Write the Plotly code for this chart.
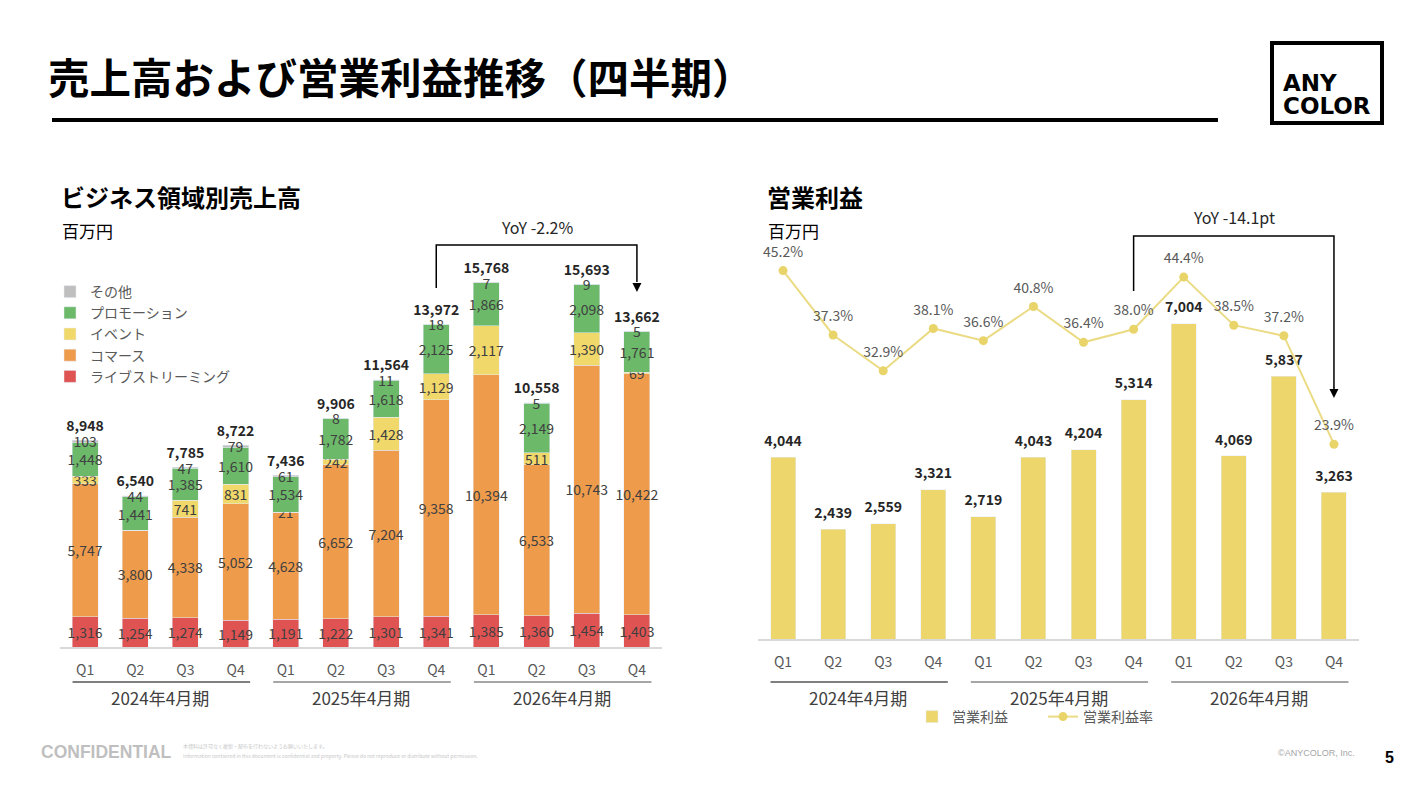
import plotly.graph_objects as go

# data (百万円)
quarters = ["Q1", "Q2", "Q3", "Q4"] * 3
fiscal_years = ["2024年4月期", "2025年4月期", "2026年4月期"]

live_streaming = [1316, 1254, 1274, 1149, 1191, 1222, 1301, 1341, 1385, 1360, 1454, 1403]
commerce = [5747, 3800, 4338, 5052, 4628, 6652, 7204, 9358, 10394, 6533, 10743, 10422]
event = [333, 0, 741, 831, 21, 242, 1428, 1129, 2117, 511, 1390, 69]
promotion = [1448, 1441, 1385, 1610, 1534, 1782, 1618, 2125, 1866, 2149, 2098, 1761]
other = [103, 44, 47, 79, 61, 8, 11, 18, 7, 5, 9, 5]
sales_total = [8948, 6540, 7785, 8722, 7436, 9906, 11564, 13972, 15768, 10558, 15693, 13662]

op_profit = [4044, 2439, 2559, 3321, 2719, 4043, 4204, 5314, 7004, 4069, 5837, 3263]
op_margin = [45.2, 37.3, 32.9, 38.1, 36.6, 40.8, 36.4, 38.0, 44.4, 38.5, 37.2, 23.9]

# page has an 8px body margin, so the figure is a bit smaller than the window
OFF = 8
W, H = 1423 - 2 * OFF, 795 - 2 * OFF
FONT = "Noto Sans CJK JP, Noto Sans, sans-serif"
LATIN = "Liberation Sans, Arial, sans-serif"
DARK = "#404040"

def px(x):
    return (x - OFF) / W

def py(y):
    return 1 - (y - OFF) / H

xs = list(range(12))

segments = [
    ("ライブストリーミング", live_streaming, "#E05353"),
    ("コマース", commerce, "#EE9B4C"),
    ("イベント", event, "#F1D86B"),
    ("プロモーション", promotion, "#6CB96A"),
    ("その他", other, "#BFBFBF"),
]

fig = go.Figure()

for name, vals, color in segments:
    fig.add_trace(go.Bar(
        x=xs, y=vals, name=name, marker_color=color, width=0.52,
        text=[f"{v:,}" if v else "" for v in vals],
        textposition="inside", insidetextanchor="middle", textangle=0,
        constraintext="none",
        textfont=dict(size=14, color=DARK, family=FONT),
        cliponaxis=False, legend="legend",
        xaxis="x", yaxis="y",
    ))

# totals above the stacks (transparent markers push the text up a little)
fig.add_trace(go.Scatter(
    x=xs, y=sales_total, mode="markers+text",
    marker=dict(size=8, opacity=0),
    text=[f"<b>{v:,}</b>" for v in sales_total],
    textposition="top center",
    textfont=dict(size=14, color="#262626", family=FONT),
    showlegend=False, cliponaxis=False, hoverinfo="skip", xaxis="x", yaxis="y",
))

# 営業利益
fig.add_trace(go.Bar(
    x=xs, y=op_profit, name="営業利益", marker_color="#EDD66B", width=0.5,
    legend="legend2", xaxis="x2", yaxis="y2",
))
fig.add_trace(go.Scatter(
    x=xs, y=op_profit, mode="markers+text",
    marker=dict(size=11, opacity=0),
    text=[f"<b>{v:,}</b>" for v in op_profit],
    textposition="top center",
    textfont=dict(size=14, color="#262626", family=FONT),
    showlegend=False, cliponaxis=False, hoverinfo="skip", xaxis="x2", yaxis="y2",
))
fig.add_trace(go.Scatter(
    x=xs, y=op_margin, name="営業利益率", mode="lines+markers",
    line=dict(color="#EADB84", width=2),
    marker=dict(color="#E9D46A", size=9),
    cliponaxis=False, legend="legend2", xaxis="x2", yaxis="y3",
))
fig.add_trace(go.Scatter(
    x=xs, y=op_margin, mode="markers+text",
    marker=dict(size=15, opacity=0),
    texttemplate="%{y:.1f}%", textposition="top center",
    textfont=dict(size=14, color="#595959", family=FONT),
    showlegend=False, cliponaxis=False, hoverinfo="skip", xaxis="x2", yaxis="y3",
))

axis_common = dict(
    range=[-0.5, 11.5], tickvals=xs, ticktext=quarters, ticks="",
    showgrid=False, zeroline=False, showline=True, linecolor="#D9D9D9", linewidth=1.5,
    tickfont=dict(size=14, color="#595959", family=FONT), ticklabelstandoff=9,
    fixedrange=True,
)

fig.update_layout(
    width=W, height=H, autosize=False,
    margin=dict(l=0, r=0, t=0, b=0),
    paper_bgcolor="white", plot_bgcolor="white",
    font=dict(family=FONT, color=DARK),
    barmode="stack",
    xaxis=dict(domain=[px(60), px(662)], anchor="y", **axis_common),
    yaxis=dict(domain=[py(647), py(230)], range=[0, 18040], visible=False),
    xaxis2=dict(domain=[px(758), px(1359)], anchor="y2", **axis_common),
    yaxis2=dict(domain=[py(639), py(230)], range=[0, 9089], visible=False, anchor="x2"),
    yaxis3=dict(range=[0, 50.18], overlaying="y2", visible=False, anchor="x2"),
    legend=dict(
        x=px(50), y=py(276), xanchor="left", yanchor="top",
        traceorder="reversed", bgcolor="rgba(0,0,0,0)",
        font=dict(size=14, color="#595959", family=FONT),
    ),
    legend2=dict(
        x=px(912), y=py(717), xanchor="left", yanchor="middle",
        orientation="h", traceorder="normal", bgcolor="rgba(0,0,0,0)",
        entrywidth=86, entrywidthmode="pixels",
        font=dict(size=14, color="#595959", family=FONT),
    ),
    showlegend=True,
)

shapes = []
annotations = []

# fiscal-year brackets under both charts
for xa in ["x", "x2"]:
    for g, fy in enumerate(fiscal_years):
        shapes.append(dict(
            type="line", xref=xa, yref="paper",
            x0=g * 4 - 0.25, x1=g * 4 + 3.29, y0=py(682), y1=py(682),
            line=dict(color="#7F7F7F" if g == 0 else "#A6A6A6", width=2),
        ))
        annotations.append(dict(
            xref=xa, yref="paper", x=g * 4 + 1.5, y=py(697), text=fy,
            xanchor="center", yanchor="middle",
            showarrow=False, font=dict(size=17, color=DARK, family=FONT),
        ))

# YoY brackets
shapes += [
    dict(type="path", xref="x", yref="paper",
         path=f"M 7,{py(288)} L 7,{py(245)} L 11,{py(245)} L 11,{py(282)}",
         line=dict(color="black", width=1.5)),
    dict(type="path", xref="x2", yref="paper",
         path=f"M 7,{py(291)} L 7,{py(236)} L 11,{py(236)} L 11,{py(388)}",
         line=dict(color="black", width=1.5)),
]
annotations += [
    dict(xref="x", yref="paper", x=11, y=py(292), ax=0, ay=-10, text="",
         showarrow=True, arrowhead=2, arrowsize=1.2, arrowwidth=1.5, arrowcolor="black"),
    dict(xref="x2", yref="paper", x=11, y=py(398), ax=0, ay=-12, text="",
         showarrow=True, arrowhead=2, arrowsize=1.2, arrowwidth=1.5, arrowcolor="black"),
    dict(xref="x", yref="paper", x=9, y=py(227), text="YoY -2.2%", showarrow=False,
         xanchor="center", yanchor="middle",
         font=dict(size=16, color="#262626", family=FONT)),
    dict(xref="x2", yref="paper", x=9, y=py(217), text="YoY -14.1pt", showarrow=False,
         xanchor="center", yanchor="middle",
         font=dict(size=16, color="#262626", family=FONT)),
]

# headings
def label(x, y, text, size, color="black", bold=False, xanchor="left", family=FONT):
    annotations.append(dict(
        xref="paper", yref="paper", x=px(x), y=py(y), xanchor=xanchor, yanchor="middle",
        text=f"<b>{text}</b>" if bold else text, showarrow=False,
        font=dict(size=size, color=color, family=family),
    ))

label(46, 76, "売上高および営業利益推移（四半期）", 41.5, bold=True)
label(59, 196, "ビジネス領域別売上高", 24, bold=True)
label(60, 230, "百万円", 17)
label(765, 196, "営業利益", 24, bold=True)
label(766, 230, "百万円", 17)

shapes.append(dict(type="line", xref="paper", yref="paper",
                   x0=px(52), x1=px(1218), y0=py(120), y1=py(120),
                   line=dict(color="black", width=4)))

# logo
shapes.append(dict(type="rect", xref="paper", yref="paper",
                   x0=px(1272), x1=px(1382), y0=py(43), y1=py(123),
                   line=dict(color="black", width=4)))
label(1281, 83, "ANY", 23, bold=True, family="DejaVu Sans, sans-serif")
label(1281, 106, "COLOR", 23, bold=True, family="DejaVu Sans, sans-serif")

# footer
label(39, 752, "CONFIDENTIAL", 17.5, color="#BFBFBF", bold=True, family=LATIN)
label(181, 746, "本資料は許可なく複製・配布を行わないようお願いいたします。", 5, color="#C8C8C8")
label(181, 756, "Information contained in this document is confidential and property. "
      "Please do not reproduce or distribute without permission.", 5, color="#C8C8C8")
label(1316, 753, "©ANYCOLOR, Inc.", 9, color="#A6A6A6", xanchor="center", family=LATIN)
label(1389, 757, "5", 16, bold=True, xanchor="center", family=LATIN)

fig.update_layout(shapes=shapes, annotations=annotations)

fig.write_html("out.html")
